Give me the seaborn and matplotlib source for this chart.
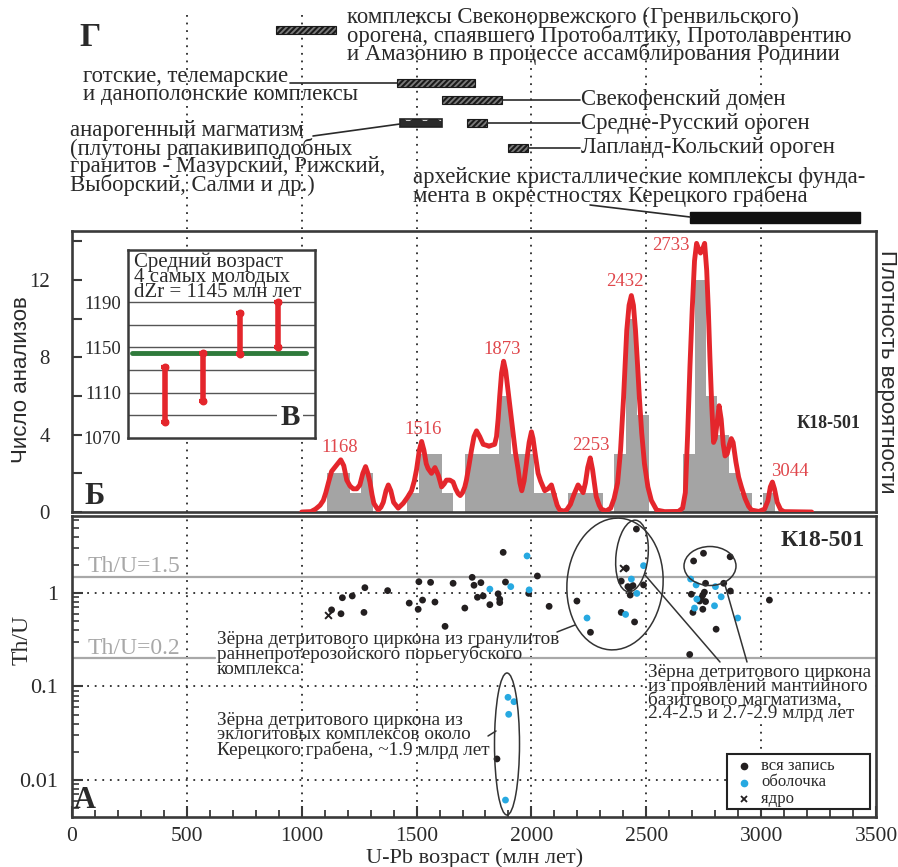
import numpy as np
import pandas as pd
import matplotlib
matplotlib.use("Agg")
import matplotlib.pyplot as plt
import seaborn as sns
from matplotlib.patches import Ellipse, Rectangle
from matplotlib.lines import Line2D
from matplotlib.transforms import Affine2D
from matplotlib.ticker import FixedLocator, NullFormatter, FixedFormatter

# ---------------- data ----------------
# histogram of U-Pb ages, 50 Ma bins
bin_edges = list(range(1110, 3111, 50))
hist_counts = [2, 2, 1, 2, 0, 0, 0, 1, 3, 3,
               1, 0, 3, 3, 3, 6, 3, 3, 1, 1,
               0, 1, 1, 1, 0, 3, 10, 5, 0, 0,
               0, 3, 12, 6, 4, 2, 1, 0, 1, 0]

# probability density curve (scaled to the count axis)
pdp_age = [1000, 1040, 1060, 1080, 1094, 1105, 1116, 1130, 1150, 1170, 1183, 1196, 1210, 1224, 1240,
           1253, 1266, 1278, 1288, 1297, 1306, 1314, 1333, 1345, 1355, 1367, 1377, 1388, 1400, 1420,
           1442, 1460, 1478, 1490, 1500, 1512, 1522, 1532, 1542, 1550, 1565, 1580, 1595, 1609, 1620,
           1630, 1645, 1659, 1670, 1681, 1690, 1700, 1710, 1717, 1728, 1739, 1750, 1761, 1775, 1790,
           1805, 1815, 1826, 1840, 1848, 1855, 1862, 1870, 1879, 1888, 1898, 1908, 1919, 1930, 1942,
           1950, 1958, 1968, 1978, 1990, 2000, 2007, 2014, 2029, 2040, 2058, 2072, 2087, 2101, 2112,
           2123, 2140, 2153, 2170, 2185, 2203, 2215, 2225, 2235, 2245, 2256, 2266, 2282, 2295, 2304,
           2325, 2345, 2360, 2375, 2388, 2401, 2415, 2425, 2435, 2444, 2453, 2462, 2470, 2480, 2492,
           2507, 2522, 2545, 2580, 2640, 2658, 2670, 2680, 2690, 2700, 2710, 2719, 2728, 2736, 2745,
           2754, 2763, 2770, 2777, 2785, 2793, 2800, 2808, 2817, 2826, 2835, 2843, 2852, 2862, 2870,
           2878, 2890, 2902, 2914, 2930, 2945, 2958, 2990, 3015, 3030, 3040, 3049, 3058, 3070, 3085,
           3100, 3220]
pdp_val = [0.0, 0.02, 0.15, 0.35, 0.6, 1.0, 1.5, 2.1, 2.4, 2.7, 2.4, 1.65, 1.35, 1.2, 1.2,
           1.4, 2.0, 2.35, 2.0, 1.55, 0.9, 0.45, 0.1, 0.25, 0.5, 1.1, 1.4, 1.1, 0.5, 0.2,
           0.45, 0.75, 1.1, 1.6, 2.2, 3.2, 3.65, 3.2, 2.5, 2.25, 2.0, 2.3, 1.9, 1.3, 1.45,
           1.65, 1.65, 1.55, 1.2, 0.95, 0.85, 1.0, 1.3, 1.65, 2.4, 3.2, 3.9, 4.2, 3.9, 3.5,
           3.45, 3.4, 3.45, 3.5, 3.9, 4.8, 6.0, 7.2, 7.8, 7.3, 6.3, 5.3, 4.2, 3.1, 2.2,
           1.5, 1.1, 1.6, 2.5, 3.6, 4.15, 3.8, 3.2, 2.0, 1.6, 1.1, 1.2, 1.4, 0.8, 0.35,
           0.1, 0.05, 0.1, 0.4, 0.9, 1.4, 1.2, 1.0, 1.5, 2.3, 2.8, 2.2, 0.8, 0.35, 0.15,
           0.05, 0.2, 0.7, 1.5, 3.2, 5.9, 9.4, 10.7, 11.2, 10.7, 9.4, 7.6, 5.9, 4.1, 2.5,
           1.3, 0.6, 0.1, 0.02, 0.03, 0.2, 1.0, 4.0, 7.5, 10.5, 13.0, 13.9, 13.6, 13.4, 13.6,
           13.9, 12.5, 10.5, 8.0, 5.5, 3.6, 3.8, 4.6, 5.5, 4.8, 3.5, 2.9, 3.0, 3.5, 3.8,
           3.6, 2.6, 1.8, 1.3, 0.7, 0.3, 0.1, 0.03, 0.15, 0.6, 1.3, 1.55, 1.2, 0.5, 0.12,
           0.02, 0.0]

peak_ages = [1168, 1516, 1873, 2253, 2432, 2733, 3044]

# youngest grains: mean age and 2-sigma
young_idx = [1, 2, 3, 4]
young_age = [1108.5, 1124.0, 1162.0, 1170.0]
young_err = [24.5, 21.0, 18.0, 20.0]
mean_young = 1145

# Th/U vs age: whole-grain analyses
all_age = [1130, 1171, 1177, 1220, 1271, 1275, 1374, 1468, 1507, 1510, 1526, 1561, 1580, 1624,
           1659, 1710, 1742, 1750, 1765, 1780, 1790, 1819, 1855, 1862, 1862, 1877, 1887, 1988,
           2026, 2077, 2198, 2257, 2457, 2413, 2391, 2420, 2427, 2442, 2488, 2430, 2391, 2449,
           2749, 2706, 2865, 2758, 2837, 2866, 2696, 2739, 2753, 2758, 2746, 2703, 2746, 2804,
           3036, 2732, 2689, 1850]
all_thu = [0.66, 0.60, 0.89, 0.93, 0.62, 1.14, 1.06, 0.78, 0.67, 1.32, 0.84, 1.30, 0.80, 0.44,
           1.27, 0.69, 1.47, 1.21, 0.90, 1.29, 0.93, 0.75, 0.98, 0.86, 0.79, 2.72, 1.31, 0.99,
           1.52, 0.72, 0.82, 0.38, 4.83, 1.84, 1.34, 1.17, 1.12, 1.20, 1.22, 0.95, 0.62, 0.49,
           2.66, 2.20, 2.44, 1.27, 1.27, 1.05, 0.97, 0.88, 1.02, 0.81, 0.95, 0.62, 0.67, 0.41,
           0.84, 0.82, 0.22, 0.0168]
# rims
rim_age = [1819, 1910, 1981, 1990, 2242, 2488, 2435, 2459, 2410, 2693, 2717, 2801, 2826, 2720,
           2710, 2797, 2898, 1898, 1924, 1901, 1887]
rim_thu = [1.10, 1.17, 2.49, 1.08, 0.54, 1.96, 1.41, 0.99, 0.59, 1.41, 1.22, 1.17, 0.91, 0.86,
           0.69, 0.73, 0.54, 0.0766, 0.0688, 0.0504, 0.0061]
# cores
core_age = [1116, 2398]
core_thu = [0.58, 1.84]

# tectonic events (age ranges, Ma)
event_start = [890, 1415, 1610, 1430, 1720, 1900, 2690]
event_end = [1150, 1755, 1870, 1610, 1805, 1985, 3430]

legend_labels = ['вся запись', 'оболочка', 'ядро']

# ---------------- styling ----------------
sns.set_theme(style="white")
plt.rcParams['font.family'] = ['Liberation Serif', 'DejaVu Serif']
plt.rcParams['hatch.linewidth'] = 1.5
plt.rcParams['axes.unicode_minus'] = False

W, H = 898, 867
fig = plt.figure(figsize=(W / 100, H / 100), dpi=100)
fig.patch.set_facecolor('white')
PX = Affine2D().scale(1.0 / W, -1.0 / H).translate(0, 1) + fig.transFigure

INK = '#2a2a2a'
FRAME = '#3a3a3a'
RED = '#e4262c'
RED_TXT = '#e0474c'
CYAN = '#27a9e1'
DOT = '#231f20'
GRAY_BAR = '#a4a4a4'
THU_GRAY = '#a8a8a8'
SANS = ['Liberation Sans', 'DejaVu Sans']


def box(l, t, r, b):
    return [l / W, 1 - b / H, (r - l) / W, (b - t) / H]


def style_frame(ax, lw=1.9):
    for s in ax.spines.values():
        s.set_visible(True)
        s.set_color(FRAME)
        s.set_linewidth(lw)


def dotted_verticals(ax, y0=None, y1=None):
    for xv in [500, 1000, 1500, 2000, 2500, 3000]:
        if y0 is None:
            ax.axvline(xv, color=INK, lw=1.3, ls=(0, (1, 3.2)), zorder=0.5)
        else:
            ax.plot([xv, xv], [y0, y1], color=INK, lw=1.3, ls=(0, (1, 3.2)), zorder=0.5)


# ---------------- panel Г: geological events ----------------
axG = fig.add_axes(box(72, 0, 876, 229))
axG.set_xlim(0, 3500)
axG.set_ylim(229, 0)
axG.axis('off')
dotted_verticals(axG, 15, 229)

rows = [30, 83, 100, 123, 123, 148, 217]
heights = [8, 8, 8, 8, 8, 8, 11]
for i, (s, e) in enumerate(zip(event_start, event_end)):
    if i == 6:
        axG.barh(rows[i], e - s, left=s, height=heights[i], color='#111111', edgecolor='#111111', zorder=3)
    elif i == 3:
        axG.barh(rows[i], e - s, left=s, height=heights[i], color='#2b2b2b', edgecolor='#d0d0d0',
                 hatch='o', linewidth=0, zorder=3)
        axG.barh(rows[i], e - s, left=s, height=heights[i], facecolor='none', edgecolor='#222222',
                 linewidth=1.2, zorder=4)
    else:
        axG.barh(rows[i], e - s, left=s, height=heights[i], color='#7a7a7a', edgecolor='#1a1a1a',
                 hatch='//////', linewidth=0.8, zorder=3)

leaders = [((290, 83), (397, 83)), ((502, 100), (580, 100)), ((487, 123), (580, 123)),
           ((528, 148), (580, 148)), ((313, 136), (400, 124)), ((590, 205), (690, 217))]
for (x0, y0), (x1, y1) in leaders:
    fig.add_artist(Line2D([x0, x1], [y0, y1], transform=PX, color=INK, lw=1.2))

tkw = dict(transform=PX, color=INK, fontsize=16.4, linespacing=0.80)
fig.text(90, 37, 'Г', transform=PX, fontsize=24, fontweight='bold', color=INK, ha='center', va='center')
fig.text(347, 7, 'комплексы Свеконорвежского (Гренвильского)\nорогена, спаявшего Протобалтику, Протолаврентию\n'
         'и Амазонию в процессе ассамблирования Родинии', va='top', **tkw)
fig.text(83, 66, 'готские, телемарские\nи данополонские комплексы', va='top', **tkw)
fig.text(581, 100, 'Свекофенский домен', va='center', **tkw)
fig.text(581, 123, 'Средне-Русский ороген', va='center', **tkw)
fig.text(581, 148, 'Лапланд-Кольский ороген', va='center', **tkw)
fig.text(70, 120, 'анарогенный магматизм\n(плутоны рапакивиподобных\nгранитов - Мазурский, Рижский,\n'
         'Выборский, Салми и др.)', va='top', **tkw)
fig.text(413, 167, 'архейские кристаллические комплексы фунда-\nмента в окрестностях Керецкого грабена',
         va='top', **tkw)

# ---------------- panel Б: histogram + density ----------------
axB = fig.add_axes(box(72, 231, 876, 512))
bin_centers = [e + 25 for e in bin_edges[:-1]]
sns.histplot(x=bin_centers, weights=hist_counts, bins=bin_edges, color=GRAY_BAR, alpha=1.0,
             edgecolor=GRAY_BAR, linewidth=0, ax=axB, zorder=1)
sns.lineplot(x=pdp_age, y=pdp_val, sort=False, color=RED, lw=3.5, ax=axB, zorder=3)
dotted_verticals(axB)
axB.set_xlim(0, 3500)
axB.set_ylim(0, 14.54)
axB.set_facecolor('white')
style_frame(axB)
axB.set_xticks([])
axB.set_yticks([0, 2, 4, 6, 8, 10, 12, 14])
axB.set_yticklabels(['0', '', '4', '', '8', '', '12', ''])
axB.tick_params(axis='y', direction='in', length=7, width=1.5, colors=FRAME, labelsize=15,
                pad=16, labelcolor=INK, left=True)
axB.set_xlabel('')
axB.set_ylabel('')

peak_px = [(340, 447), (423, 430), (502, 350), (591, 445), (625, 282), (671, 245), (790, 472)]
for lab, (px_, py_) in zip(peak_ages, peak_px):
    fig.text(px_, py_, str(lab), transform=PX, color=RED_TXT, fontsize=13.5, ha='center', va='center')
fig.text(829, 423, 'К18-501', transform=PX, fontsize=13, fontweight='bold', color=INK, ha='center', va='center')
fig.text(95, 497, 'Б', transform=PX, fontsize=22, fontweight='bold', color=INK, ha='center', va='center')
fig.text(22, 380, 'Число анализов', transform=PX, rotation=90, fontsize=16, family=SANS, color=INK,
         ha='center', va='center')
fig.text(886, 372, 'Плотность вероятности', transform=PX, rotation=270, fontsize=16, family=SANS, color=INK,
         ha='center', va='center')

# ---------------- inset В: youngest grains ----------------
axI = fig.add_axes(box(128, 250, 315, 438))
axI.set_xlim(0, 5)
axI.set_ylim(1070, 1236)
axI.set_facecolor('white')
for gy in [1090, 1110, 1130, 1150, 1170, 1190]:
    axI.axhline(gy, color='#555555', lw=1.0, zorder=1)
axI.plot([0.1, 4.76], [mean_young, mean_young], color='#2f7a3b', lw=3.5, zorder=2)
axI.errorbar(young_idx, young_age, yerr=young_err, fmt='none', ecolor=RED, elinewidth=4,
             capsize=3, capthick=3, zorder=3)
axI.scatter(young_idx + young_idx,
            [a - e for a, e in zip(young_age, young_err)] + [a + e for a, e in zip(young_age, young_err)],
            s=22, color=RED, zorder=4)
style_frame(axI, 1.8)
axI.set_xticks([])
axI.set_yticks([1070, 1110, 1150, 1190])
axI.tick_params(axis='y', length=0, labelsize=13.5, pad=5, labelcolor=INK)
fig.text(134, 253, 'Средний возраст\n4 самых молодых\ndZr = %d млн лет' % mean_young, transform=PX,
         fontsize=15, color=INK, va='top', ha='left', linespacing=0.68)
axI.text(4.33, 1088.5, 'В', fontsize=21, fontweight='bold', color=INK, ha='center', va='center', zorder=5,
         bbox=dict(facecolor='white', edgecolor='none', pad=2))

# ---------------- panel А: Th/U vs age ----------------
axA = fig.add_axes(box(72, 516, 876, 817))
axA.set_yscale('log')
axA.set_xlim(0, 3500)
axA.set_ylim(0.00402, 6.66)
axA.set_facecolor('white')
dotted_verticals(axA)
for yv in [0.01, 0.1, 1]:
    axA.axhline(yv, color=INK, lw=1.3, ls=(0, (1, 3.2)), zorder=0.5)
axA.axhline(1.5, color=THU_GRAY, lw=1.6, zorder=0.6)
axA.plot([0, 624], [0.2, 0.2], color=THU_GRAY, lw=1.6, zorder=0.6)
axA.plot([1870, 3500], [0.2, 0.2], color=THU_GRAY, lw=1.6, zorder=0.6)

sns.scatterplot(x=all_age, y=all_thu, color=DOT, s=24, edgecolor='none', ax=axA, zorder=3)
sns.scatterplot(x=rim_age, y=rim_thu, color=CYAN, s=24, edgecolor='none', ax=axA, zorder=4)
sns.scatterplot(x=core_age, y=core_thu, color=DOT, marker='x', s=24, linewidth=1.4, ax=axA, zorder=4)

style_frame(axA)
axA.xaxis.set_major_locator(FixedLocator([0, 500, 1000, 1500, 2000, 2500, 3000, 3500]))
axA.xaxis.set_minor_locator(FixedLocator([v for v in range(0, 3501, 100) if v % 500]))
axA.tick_params(axis='x', which='major', direction='in', length=8, width=1.5, colors=FRAME,
                labelsize=15.5, pad=7, labelcolor=INK, bottom=True)
axA.tick_params(axis='x', which='minor', direction='in', length=5, width=1.3, colors=FRAME, bottom=True)
axA.yaxis.set_major_locator(FixedLocator([0.01, 0.1, 1]))
axA.yaxis.set_major_formatter(FixedFormatter(['0.01', '0.1', '1']))
minors = [m * d for d in [0.001, 0.01, 0.1, 1] for m in range(2, 10)]
axA.yaxis.set_minor_locator(FixedLocator([v for v in minors if 0.00402 < v < 6.66]))
axA.yaxis.set_minor_formatter(NullFormatter())
axA.tick_params(axis='y', which='major', direction='in', length=8, width=1.5, colors=FRAME,
                labelsize=16, pad=10, labelcolor=INK, left=True)
axA.tick_params(axis='y', which='minor', direction='in', length=5, width=1.2, colors=FRAME, left=True)
axA.set_xlabel('')
axA.set_ylabel('')

# ellipses around grain groups (sizes in pixels)
AXW, AXH = 876 - 72, 817 - 516
EPX = Affine2D().scale(1.0 / AXW, 1.0 / AXH) + axA.transAxes
for (cx, cy, ew, eh, ang) in [(615, 584, 96, 132, -5), (632, 556, 32, 72, -6),
                              (710, 566, 52, 39, 0), (507, 744, 25, 142, 0)]:
    axA.add_patch(Ellipse((cx - 72, 817 - cy), ew, eh, angle=ang, transform=EPX, fill=False,
                          edgecolor='#333333', lw=1.1, zorder=5))

for (x0, y0), (x1, y1) in [((557, 632), (575, 625)), ((645, 575), (720, 662)),
                           ((725, 585), (747, 662)), ((488, 736), (496, 731))]:
    fig.add_artist(Line2D([x0, x1], [y0, y1], transform=PX, color='#333333', lw=1.1))

fig.text(88, 577, 'Th/U=1.5', transform=PX, color=THU_GRAY, fontsize=17, va='bottom')
fig.text(88, 659, 'Th/U=0.2', transform=PX, color=THU_GRAY, fontsize=17, va='bottom')
akw = dict(transform=PX, color=INK, fontsize=13.9, va='top')
fig.text(217, 631, 'Зёрна детритового циркона из гранулитов\nраннепротерозойского порьегубского\nкомплекса',
         linespacing=0.80, **akw)
fig.text(217, 712, 'Зёрна детритового циркона из\nэклогитовых комплексов около\nКерецкого грабена, ~1.9 млрд лет',
         linespacing=0.80, **akw)
fig.text(648, 664, 'Зёрна детритового циркона\nиз проявлений мантийного\nбазитового магматизма,\n'
         '2.4-2.5 и 2.7-2.9 млрд лет', linespacing=0.74,
         bbox=dict(facecolor='white', edgecolor='none', pad=1), **akw)
fig.text(823, 540, 'К18-501', transform=PX, fontsize=17, fontweight='bold', color=INK, ha='center', va='center')
fig.text(85, 800, 'А', transform=PX, fontsize=22, fontweight='bold', color=INK, ha='center', va='center')
fig.text(22, 640, 'Th/U', transform=PX, rotation=90, fontsize=17, color=INK, ha='center', va='center')
fig.text(475, 858, 'U-Pb возраст (млн лет)', transform=PX, fontsize=16, color=INK, ha='center', va='center')

# legend box
fig.add_artist(Rectangle((727, 754), 143, 55, transform=PX, facecolor='white', edgecolor='#222222',
                         lw=1.5, zorder=6))
leg_y = [766, 782.5, 799]
leg_style = [dict(marker='o', color=DOT, markersize=4.5), dict(marker='o', color=CYAN, markersize=4.5),
             dict(marker='x', color=DOT, markersize=4.5, mew=1.3)]
for yy, lab, st in zip(leg_y, legend_labels, leg_style):
    fig.add_artist(Line2D([744], [yy], transform=PX, ls='none', zorder=7, **st))
    fig.text(761, yy, lab, transform=PX, fontsize=12, color=INK, va='center', zorder=7)

fig.savefig('out.png', dpi=100, facecolor='white')
